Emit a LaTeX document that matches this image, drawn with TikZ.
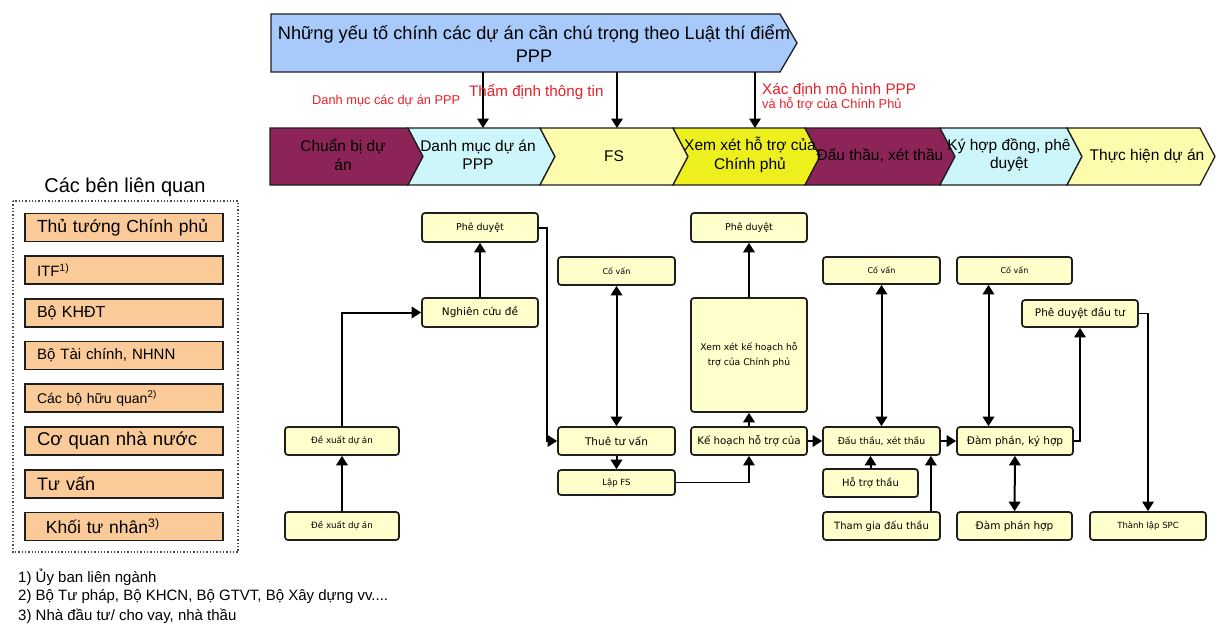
\documentclass[tikz,border=0pt]{standalone}
\usepackage{fontspec}
\setmainfont{Liberation Sans}
\newfontfamily\boxfont{DejaVu Sans}
\usetikzlibrary{arrows.meta}

\definecolor{plum}{RGB}{140,36,88}
\definecolor{iceblue}{RGB}{205,246,250}
\definecolor{paleyellow}{RGB}{252,252,172}
\definecolor{brightyellow}{RGB}{238,240,30}
\definecolor{bannerblue}{RGB}{168,202,250}
\definecolor{cream}{RGB}{255,255,204}
\definecolor{peach}{RGB}{250,202,152}
\definecolor{labelred}{RGB}{232,32,40}
\definecolor{edge}{RGB}{30,30,30}

\newcommand{\fsz}[2]{\fontsize{#1}{#2}\selectfont}
\newcommand{\bx}[2]{\boxfont\fontsize{#1}{#2}\selectfont}

\begin{document}
\begin{tikzpicture}[x=1pt,y=-1pt,
  >={Triangle[width=11.5pt,length=9.5pt]},
  chev/.style={draw=edge,line width=1.3pt,line join=miter},
  chevtext/.style={inner sep=0pt,align=center,font=\fsz{15.5}{18.5}},
  redlbl/.style={text=labelred,inner sep=0pt,anchor=west},
  fbox/.style={draw=edge,line width=1.7pt,rounded corners=3pt,fill=cream,
    inner sep=0pt,align=center,minimum width=116pt,minimum height=28pt},
  link/.style={line width=2pt,->},
  thin link/.style={line width=1.4pt,->},
  both/.style={line width=2pt,<->},
  legbox/.style={draw=edge,line width=1.7pt,fill=peach,minimum width=198pt,
    minimum height=28pt,inner xsep=12pt,inner ysep=0pt,text width=174pt,align=left},
  note/.style={inner sep=0pt,anchor=west,font=\fsz{15}{16}},
]
\useasboundingbox (0,0) rectangle (1216,626);

% ---------- banner ----------
\draw[chev,fill=bannerblue] (271,14) -- (780,14) -- (797,43) -- (780,72) -- (271,72) -- cycle;
\node[inner sep=0pt,align=center,font=\fsz{18.2}{23}] (banner) at (534,43.5)
  {Những yếu tố chính các dự án cần chú trọng theo Luật thí điểm\\PPP};

% ---------- phase chevrons ----------
\draw[chev,fill=plum] (270,128) -- (408,128) -- (423,156.5) -- (408,185) -- (270,185) -- cycle;
\draw[chev,fill=iceblue] (408,128) -- (540,128) -- (555,156.5) -- (540,185) -- (408,185) -- (423,156.5) -- cycle;
\draw[chev,fill=paleyellow] (540,128) -- (673,128) -- (688,156.5) -- (673,185) -- (540,185) -- (555,156.5) -- cycle;
\draw[chev,fill=brightyellow] (673,128) -- (805,128) -- (820,156.5) -- (805,185) -- (673,185) -- (688,156.5) -- cycle;
\draw[chev,fill=plum] (805,128) -- (940,128) -- (955,156.5) -- (940,185) -- (805,185) -- (820,156.5) -- cycle;
\draw[chev,fill=iceblue] (940,128) -- (1067,128) -- (1082,156.5) -- (1067,185) -- (940,185) -- (955,156.5) -- cycle;
\draw[chev,fill=paleyellow] (1067,128) -- (1200,128) -- (1215,156.5) -- (1200,185) -- (1067,185) -- (1082,156.5) -- cycle;

\node[chevtext] (ph1) at (343,155) {Chuẩn bị dự\\án};
\node[chevtext] (ph2) at (478,155) {Danh mục dự án\\PPP};
\node[chevtext] (ph3) at (614,156) {FS};
\node[chevtext] (ph4) at (750,155) {Xem xét hỗ trợ của\\Chính phủ};
\node[chevtext] (ph5) at (880,156) {Đấu thầu, xét thầu};
\node[chevtext] (ph6) at (1009,155) {Ký hợp đồng, phê\\duyệt};
\node[chevtext] (ph7) at (1147,156) {Thực hiện dự án};

% ---------- banner to phases ----------
\coordinate (bA) at (483,72);  \coordinate (pA) at (483,128);
\coordinate (bB) at (617,72);  \coordinate (pB) at (617,128);
\coordinate (bC) at (755,72);  \coordinate (pC) at (755,128);
\draw[link] (bA) -- (pA);
\draw[link] (bB) -- (pB);
\draw[link] (bC) -- (pC);

\node[redlbl,font=\fsz{12.8}{13}] (lblA) at (312,101) {Danh mục các dự án PPP};
\node[redlbl,font=\fsz{15.2}{16}] (lblB) at (469,92) {Thẩm định thông tin};
\node[redlbl,font=\fsz{15.3}{16}] (lblC) at (762,90) {Xác định mô hình PPP};
\node[redlbl,font=\fsz{12.8}{13}] (lblD) at (762,104) {và hỗ trợ của Chính Phủ};

% ---------- stakeholders ----------
\node[inner sep=0pt,font=\fsz{20}{22}] (legtitle) at (125,187) {Các bên liên quan};
\draw[dotted,line width=1.3pt,black!70] (13,201) rectangle (238,552);
\node[legbox,font=\fsz{17.5}{18}] (s1) at (124,227.5) {Thủ tướng Chính phủ};
\node[legbox,font=\fsz{15}{16}] (s2) at (124,270.2) {ITF\textsuperscript{1)}};
\node[legbox,font=\fsz{16}{16}] (s3) at (124,312.9) {Bộ KHĐT};
\node[legbox,font=\fsz{15}{16}] (s4) at (124,355.6) {Bộ Tài chính, NHNN};
\node[legbox,font=\fsz{14}{16}] (s5) at (124,398.3) {Các bộ hữu quan\textsuperscript{2)}};
\node[legbox,font=\fsz{18.5}{19}] (s6) at (124,441) {Cơ quan nhà nước};
\node[legbox,font=\fsz{18}{19}] (s7) at (124,483.7) {Tư vấn};
\node[legbox,font=\fsz{17.5}{18}] (s8) at (124,526.4) {\hspace*{9pt}Khối tư nhân\textsuperscript{3)}};

\node[note] (n1) at (18,577) {1) Ủy ban liên ngành};
\node[note] (n2) at (18,597) {2) Bộ Tư pháp, Bộ KHCN, Bộ GTVT, Bộ Xây dựng vv....};
\node[note] (n3) at (18,616) {3) Nhà đầu tư/ cho vay, nhà thầu};

% ---------- process boxes ----------
\node[fbox,minimum height=29pt,font=\bx{9.5}{10}] (appr1) at (480,227.5) {Phê duyệt};
\node[fbox,minimum height=29pt,font=\bx{10.5}{11}] (study) at (480,312.5) {Nghiên cứu đề};
\node[fbox,minimum width=114pt,font=\bx{8.7}{9}] (prop1) at (342,441) {Đề xuất dự án};
\node[fbox,minimum width=114pt,font=\bx{8.7}{9}] (prop2) at (342,526) {Đề xuất dự án};

\node[fbox,minimum width=117pt,font=\bx{8}{9}] (adv1) at (616.5,271) {Cố vấn};
\node[fbox,minimum width=117pt,font=\bx{10.5}{11}] (hire) at (616.5,441) {Thuê tư vấn};
\node[fbox,minimum width=117pt,minimum height=25pt,font=\bx{8.5}{9}] (fs) at (616.5,482.5) {Lập FS};

\node[fbox,minimum height=29pt,font=\bx{9.5}{10}] (appr2) at (749,227.5) {Phê duyệt};
\node[fbox,minimum height=114pt,font=\bx{9.2}{15}] (review) at (749,355) {Xem xét kế hoạch hỗ\\trợ của Chính phủ};
\node[fbox,font=\bx{10.3}{11}] (plan) at (749,441) {Kế hoạch hỗ trợ của};

\node[fbox,minimum width=117pt,minimum height=27pt,font=\bx{8}{9}] (adv2) at (881.5,270.5) {Cố vấn};
\node[fbox,minimum width=117pt,font=\bx{9.3}{10}] (bid) at (881.5,441) {Đấu thầu, xét thầu};
\node[fbox,minimum width=95pt,font=\bx{10}{11}] (bidsup) at (870.5,483) {Hỗ trợ thầu};
\node[fbox,minimum width=117pt,font=\bx{10}{11}] (bidjoin) at (881.5,526) {Tham gia đấu thầu};

\node[fbox,minimum width=115pt,minimum height=27pt,font=\bx{8}{9}] (adv3) at (1014.5,270.5) {Cố vấn};
\node[fbox,minimum width=116pt,font=\bx{10.5}{11}] (nego) at (1015,441) {Đàm phán, ký hợp};
\node[fbox,minimum width=115pt,font=\bx{10.5}{11}] (negoc) at (1014.5,526) {Đàm phán hợp};
\node[fbox,minimum height=27pt,font=\bx{10.5}{11}] (invest) at (1080,313.5) {Phê duyệt đầu tư};
\node[fbox,font=\bx{8.5}{9}] (spc) at (1148,526) {Thành lập SPC};

% ---------- process links ----------
\draw[link] (prop2) -- (prop1);
\draw[link] (prop1.north) |- (study.west);
\draw[link] (study) -- (appr1);
\draw[link] (appr1.east) -- ++(8,0) |- (hire.west);
\draw[both] (adv1) -- (hire);
\draw[link] (hire) -- (fs);
\draw[thin link] (fs.east) -| (plan.south);
\draw[link] (plan) -- (review);
\draw[link] (review) -- (appr2);
\draw[link] (plan) -- (bid);
\draw[both] (adv2) -- (bid);
\draw[link] (bidsup) -- (bidsup.north |- bid.south);
\draw[link] ([xshift=-10pt]bidjoin.north east) -- ([xshift=-10pt]bidjoin.north east |- bid.south);
\draw[link] (bid) -- (nego);
\draw[both] ([xshift=-26pt]adv3.south) -- ([xshift=-26pt]adv3.south |- nego.north);
\draw[both] (nego) -- (negoc);
\draw[thin link] (nego.east) -| (invest.south);
\draw[thin link] (invest.east) -| (spc.north);
\end{tikzpicture}
\end{document}
